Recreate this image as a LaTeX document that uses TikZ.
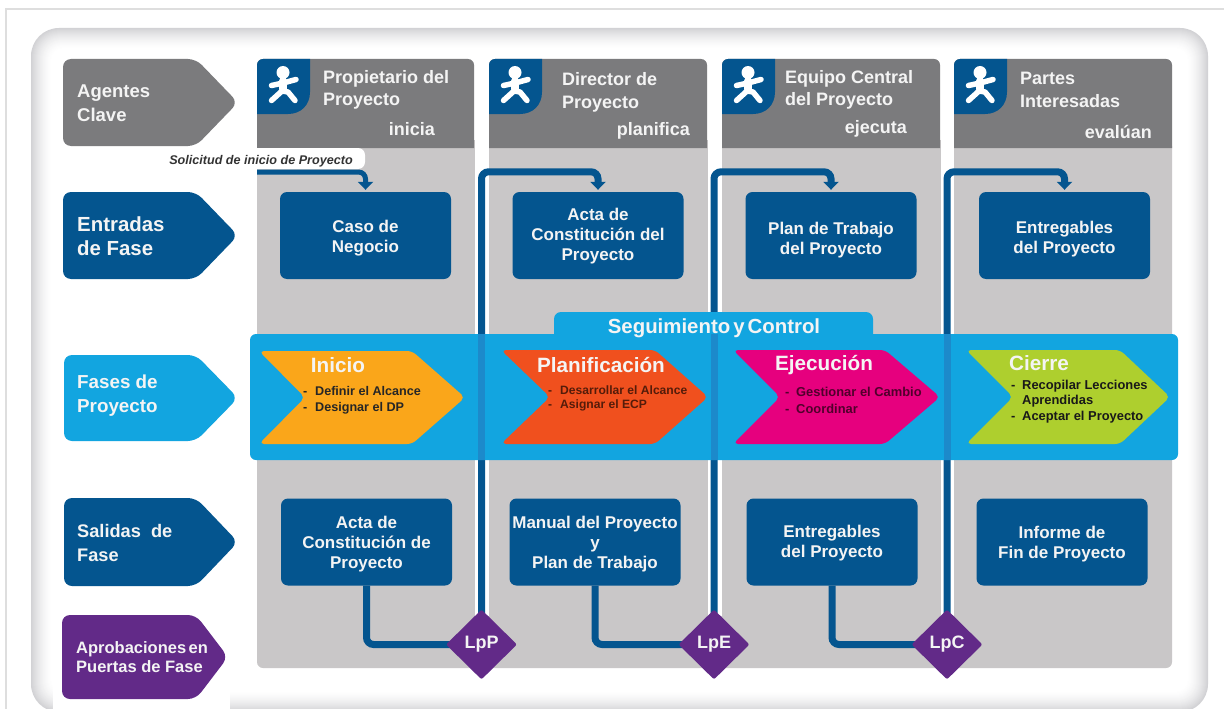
\documentclass[tikz,border=0pt]{standalone}
\usepackage{fontspec}
\setmainfont{Liberation Sans}
\usetikzlibrary{arrows.meta,shapes.geometric,calc}
\pgfdeclarelayer{front}
\pgfsetlayers{main,front}
\definecolor{cblue}{HTML}{04558F}
\definecolor{csky}{HTML}{12A5E0}
\definecolor{cstripe}{HTML}{1C8ACB}
\definecolor{cgray}{HTML}{7B7B7D}
\definecolor{clight}{HTML}{C9C7C8}
\definecolor{cpurple}{HTML}{622A88}
\definecolor{corange}{HTML}{FAA61A}
\definecolor{cred}{HTML}{F0501E}
\definecolor{cmag}{HTML}{E6007E}
\definecolor{clime}{HTML}{AECF2E}
\definecolor{cframe}{HTML}{DEDEDE}
\definecolor{cshade}{HTML}{D2D2D5}
\definecolor{ctext}{HTML}{F4F4F4}
\tikzset{
  boxnode/.style={fill=cblue,rounded corners=7pt,minimum width=171pt,minimum height=87pt,inner sep=0pt,
    text=ctext,align=center,font=\bfseries\fontsize{17}{20}\selectfont},
  gate/.style={shape=diamond,fill=cpurple,minimum width=71pt,minimum height=70pt,inner sep=0pt,rounded corners=2pt,
    text=ctext,font=\bfseries\fontsize{18}{18}\selectfont},
  flow/.style={draw=cblue,line width=7pt,rounded corners=7pt},
  flowin/.style={flow,-{Triangle[length=8pt,width=15pt]},shorten >=2pt},
  lefttext/.style={text=ctext,anchor=west,align=left,inner sep=0pt},
  headtext/.style={text=ctext,anchor=west,align=left,inner sep=0pt,font=\bfseries\fontsize{18}{22.5}\selectfont},
  verbtext/.style={text=ctext,anchor=east,inner sep=0pt,font=\bfseries\fontsize{18}{18}\selectfont},
  phasetitle/.style={text=ctext,inner sep=0pt,font=\bfseries\fontsize{20.7}{21}\selectfont},
  itemtext/.style={anchor=north west,inner sep=0pt,align=left},
}
% centred lines, moved down by #1 pt inside their node
\newcommand{\dn}[2]{\vbox{\kern #1pt\kern #1pt\hbox{\begin{tabular}{@{}c@{}}#2\end{tabular}}}}
\newcommand{\pentagon}[6]{% x1 y1 x2 y2 shoulder colour
  \fill[#6,rounded corners=8pt] (#1,#2) -- (#5,#2) -- (#3+3,{(#2+#4)/2}) -- (#5,#4) -- (#1,#4) -- cycle;}
\newcommand{\chev}[7]{% left top bottom notch shoulder tip colour
  \fill[#7,rounded corners=5pt] (#1-2,#2) -- (#5,#2) -- (#6+2,{(#2+#3)/2}) -- (#5,#3) -- (#1-2,#3) -- (#4,{(#2+#3)/2}) -- cycle;}
\newcommand{\header}[2]{% x1 x2
  \fill[cgray] (#1,148) -- (#1,65) arc[start angle=180,end angle=270,x radius=6pt,y radius=-6pt] -- (#2-6,59)
     arc[start angle=90,end angle=0,x radius=6pt,y radius=6pt] -- (#2,148) -- cycle;
  \begin{scope}[xshift=#1 pt]
    \fill[cblue] (0,114) -- (0,65) arc[start angle=180,end angle=270,x radius=6pt,y radius=-6pt] -- (53,59) -- (53,92)
       .. controls (53,105) and (44,114) .. (31,114) -- cycle;
    \fill[white] (26,72.5) circle[radius=6.5pt];
    \draw[white,line width=8pt,line cap=round] (26,81) -- (26,89);
    \draw[white,line width=5.5pt,line cap=round,line join=round] (14.5,85.5) -- (26,83) -- (39,79.5);
    \draw[white,line width=5.5pt,line cap=round,line join=round] (14.5,100.5) -- (25,91) -- (31,92) -- (38,100.5);
  \end{scope}}
\begin{document}
\begin{tikzpicture}[x=1pt,y=-1pt]
\useasboundingbox (0,0) rectangle (1224,709);
\clip (0,0) rectangle (1224,709);
\fill[white] (0,0) rectangle (1224,709);
% frame
\draw[cframe,line width=2pt] (6,709) -- (6,9) -- (1224,9);
% soft panel
\foreach \i in {0,...,21}{
  \pgfmathsetmacro{\mixv}{100*(1-(\i/21))^1.6}
  \pgfmathsetmacro{\rad}{max(28-\i*0.8,8)}
  \fill[cshade!\mixv!white,rounded corners=\rad pt] (31+\i,28+\i) rectangle (1208-\i,712-\i);
}
\fill[white] (53,682) rectangle (230,709);
% grey columns
\fill[clight,rounded corners=6pt] (257,140) rectangle (1172,668);
\fill[white] (475,136) rectangle (489,616);
\fill[white] (708,136) rectangle (722,616);
\fill[white] (941,136) rectangle (954,616);
% column headers
\header{257}{474}
\header{489}{707}
\header{722}{940}
\header{954}{1172}
\node[headtext] (h1) at (323,90) {Propietario del\\Proyecto};
\node[headtext] (h2) at (562,92.5) {Director de\\Proyecto};
\node[headtext] (h3) at (785,90) {Equipo Central\\del Proyecto};
\node[headtext] (h4) at (1020,90) {Partes\\Interesadas};
\node[verbtext] (v1) at (435,129) {inicia};
\node[verbtext] (v2) at (690,131) {planifica};
\node[verbtext] (v3) at (907,129) {ejecuta};
\node[verbtext] (v4) at (1152,132) {evalúan};
% left column
\pentagon{63}{59}{235}{146}{196}{cgray}
\pentagon{63}{192}{235}{279}{196}{cblue}
\pentagon{64}{355}{235}{441}{196}{csky}
\pentagon{64}{498}{235}{586}{196}{cblue}
\pentagon{62}{615}{225}{699}{196}{cpurple}
\node[lefttext,font=\bfseries\fontsize{18.5}{24}\selectfont] (l1) at (77,103) {Agentes\\Clave};
\node[lefttext,font=\bfseries\fontsize{20.4}{24}\selectfont] (l2) at (77,236) {Entradas\\de Fase};
\node[lefttext,font=\bfseries\fontsize{18.8}{24}\selectfont] (l3) at (77,396) {Fases de\\Proyecto};
\node[lefttext,font=\bfseries\fontsize{18.2}{24}\selectfont] (l4) at (77,543) {Salidas\ \ de\\Fase};
\node[lefttext,font=\bfseries\fontsize{16.5}{19}\selectfont] (l5) at (76,657) {\spaceskip=2.5pt Aprobaciones en\\Puertas de Fase};
% label above first box
\node[fill=white,rounded corners=7pt,minimum width=208pt,minimum height=21pt,inner sep=0pt,text=black!80,
   font=\bfseries\itshape\fontsize{12.6}{13}\selectfont] (sol) at (261,158.5) {\dn{3}{Solicitud de inicio de Proyecto}};
\coordinate (solend) at (257,172);
% boxes
\node[boxnode] (i1) at (365.5,235.5) {\dn{2.5}{Caso de\\Negocio}};
\node[boxnode] (i2) at (598,235.5) {\dn{1}{Acta de\\Constitución del\\Proyecto}};
\node[boxnode] (i3) at (831,235.5) {\dn{4.5}{Plan de Trabajo\\del Proyecto}};
\node[boxnode] (i4) at (1064.5,235.5) {\dn{4}{Entregables\\del Proyecto}};
\node[boxnode] (o1) at (366.5,542) {\dn{2}{Acta de\\Constitución de\\Proyecto}};
\node[boxnode] (o2) at (595,542) {\dn{2}{Manual del Proyecto\\y\\Plan de Trabajo}};
\node[boxnode] (o3) at (832,542) {\dn{1}{Entregables\\del Proyecto}};
\node[boxnode] (o4) at (1062,542) {\dn{2}{Informe de\\Fin de Proyecto}};
% gates
\begin{pgfonlayer}{front}
\node[gate] (g1) at (481.5,644.5) {LpP};
\node[gate] (g2) at (714,644.5) {LpE};
\node[gate] (g3) at (947,644.5) {LpC};
\end{pgfonlayer}
% connectors
\draw[flowin,line width=5pt] (solend) -| (i1.north);
\draw[flowin,shorten <=-4pt] (g1.north) |- ($(i2.north)+(0,-20)$) -- (i2.north);
\draw[flowin,shorten <=-4pt] (g2.north) |- ($(i3.north)+(0,-20)$) -- (i3.north);
\draw[flowin,shorten <=-4pt] (g3.north) |- ($(i4.north)+(0,-20)$) -- (i4.north);
\draw[flow,shorten >=-4pt] (o1.south) |- (g1.west);
\draw[flow,shorten >=-4pt] (o2.south) |- (g2.west);
\draw[flow,shorten >=-4pt] (o3.south) |- (g3.west);
% phase band
\fill[csky,rounded corners=7pt] (554,345) -- (554,312) -- (873,312) -- (873,345) -- cycle;
\fill[csky,rounded corners=6pt] (250,334) rectangle (1178,460);
\fill[cstripe] (478,334) rectangle (485,460);
\fill[cstripe] (710.5,334) rectangle (717.5,460);
\fill[cstripe] (943.5,334) rectangle (950.5,460);
\node[text=ctext,inner sep=0pt,font=\bfseries\fontsize{20.4}{21}\selectfont] (seg) at (714,328) {\spaceskip=3pt Seguimiento y Control};
\chev{261}{351}{444}{305}{412}{463}{corange}
\chev{503}{350}{444}{550}{655}{706}{cred}
\chev{735}{350}{444}{780}{885}{938}{cmag}
\chev{968}{350}{444}{1013}{1120}{1168}{clime}
\node[phasetitle] (p1) at (338,365) {Inicio};
\node[phasetitle] (p2) at (601,365) {Planificación};
\node[phasetitle] (p3) at (824,365) {Ejecución};
\node[phasetitle] (p4) at (1039,363) {Cierre};
\node[itemtext,text=black!85,font=\bfseries\fontsize{12.6}{16}\selectfont] (t1) at (303,384.5) {\begin{tabular}{@{}p{12pt}@{}l@{}}-&Definir el Alcance\\-&Designar el DP\end{tabular}};
\node[itemtext,text=black!65!cred,font=\bfseries\fontsize{12.1}{14}\selectfont] (t2) at (548,384) {\begin{tabular}{@{}p{12pt}@{}l@{}}-&Desarrollar el Alcance\\-&Asignar el ECP\end{tabular}};
\node[itemtext,text=black!65!cmag,font=\bfseries\fontsize{12.9}{16.5}\selectfont] (t3) at (785,385) {\begin{tabular}{@{}p{11pt}@{}l@{}}-&Gestionar el Cambio\\-&Coordinar\end{tabular}};
\node[itemtext,text=black!90,font=\bfseries\fontsize{12.9}{15.5}\selectfont] (t4) at (1011,378) {\begin{tabular}{@{}p{11pt}@{}l@{}}-&Recopilar Lecciones\\&Aprendidas\\-&Aceptar el Proyecto\end{tabular}};
\end{tikzpicture}
\end{document}
